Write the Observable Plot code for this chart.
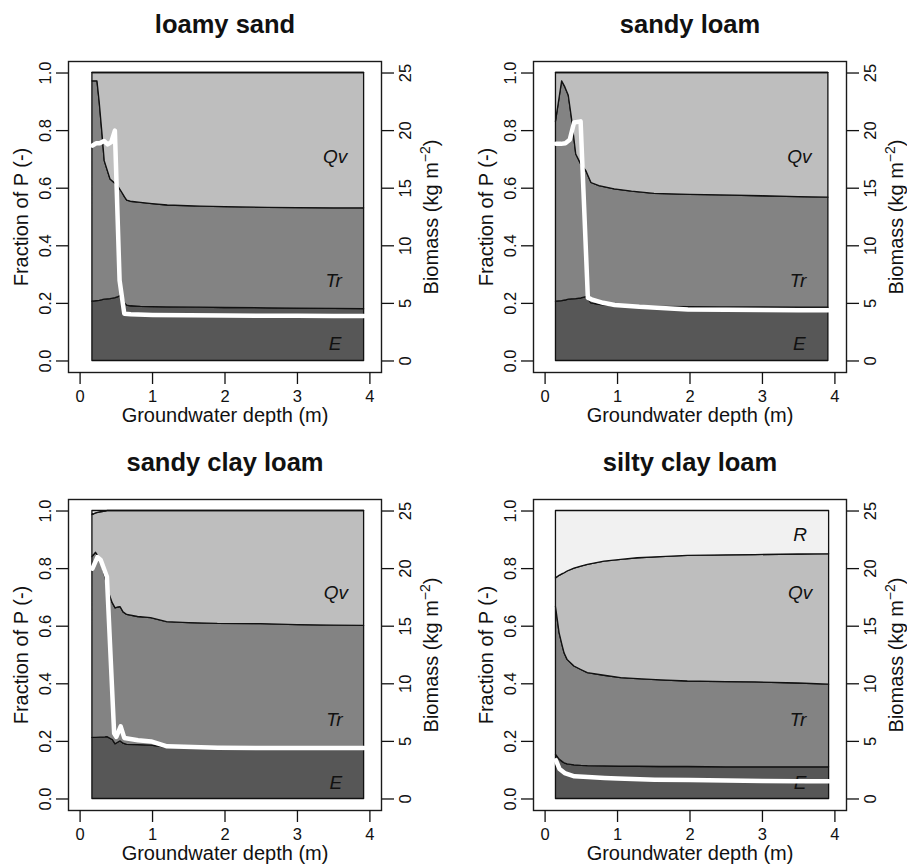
<!DOCTYPE html>
<html>
<head>
<meta charset="utf-8">
<script src="https://cdn.jsdelivr.net/npm/d3@7"></script>
<script src="https://cdn.jsdelivr.net/npm/@observablehq/plot@0.6"></script>
<style>
  html, body { margin: 0; padding: 0; background: #fff; overflow: hidden; }
  #wrap { position: relative; width: 907px; height: 866px; overflow: hidden; background: #fff; }
  .panel { position: absolute; width: 454px; height: 433px; }
  .panel svg { max-width: none !important; }
</style>
</head>
<body>
<div id="wrap"></div>
<script>
// ---------- shared axis data ----------
const titles = ["loamy sand", "sandy loam", "sandy clay loam", "silty clay loam"];
const fracTicks = [0, 0.2, 0.4, 0.6, 0.8, 1.0];
const fracTickLabels = ["0.0", "0.2", "0.4", "0.6", "0.8", "1.0"];
const bioTicks = [0, 5, 10, 15, 20, 25];
const depthTicks = [0, 1, 2, 3, 4];
const xLabel = "Groundwater depth (m)";
const yLabel = "Fraction of P (-)";
const y2Label = "Biomass (kg m-2)";
const bioMax = 25;

// ---------- loamy sand ----------
const lsDepth = [0.17, 0.24, 0.27, 0.31, 0.34, 0.42, 0.49, 0.53, 0.58, 0.62, 0.65, 0.7, 0.84, 1.0, 1.21, 1.67, 2.0, 2.59, 3.0, 3.5, 3.92];
const lsE     = [0.206, 0.208, 0.209, 0.211, 0.213, 0.215, 0.218, 0.222, 0.228, 0.2, 0.192, 0.19, 0.188, 0.187, 0.186, 0.185, 0.184, 0.183, 0.182, 0.181, 0.18];
const lsTr    = [0.971, 0.971, 0.9, 0.786, 0.694, 0.63, 0.615, 0.605, 0.585, 0.568, 0.557, 0.553, 0.549, 0.545, 0.54, 0.536, 0.534, 0.532, 0.531, 0.53, 0.53];
const lsQv    = [1, 1, 1, 1, 1, 1, 1, 1, 1, 1, 1, 1, 1, 1, 1, 1, 1, 1, 1, 1, 1];
const lsBioDepth = [0.17, 0.22, 0.27, 0.33, 0.38, 0.43, 0.48, 0.545, 0.61, 0.7, 1.0, 1.5, 2.0, 2.5, 3.0, 3.5, 3.92];
const lsBio      = [18.7, 18.9, 18.9, 19.1, 18.8, 19.0, 20.0, 7.0, 4.1, 4.05, 4.0, 3.97, 3.95, 3.93, 3.92, 3.9, 3.9];
const lsLabels = [{t: "Qv", x: 3.52, y: 0.71}, {t: "Tr", x: 3.5, y: 0.277}, {t: "E", x: 3.52, y: 0.058}];

// ---------- sandy loam ----------
const slDepth = [0.15, 0.235, 0.28, 0.327, 0.37, 0.43, 0.5, 0.57, 0.64, 0.75, 0.96, 1.2, 1.51, 2.0, 2.43, 3.0, 3.5, 3.91];
const slE     = [0.206, 0.208, 0.21, 0.213, 0.214, 0.215, 0.217, 0.222, 0.2, 0.195, 0.19, 0.189, 0.188, 0.187, 0.186, 0.186, 0.185, 0.185];
const slTr    = [0.83, 0.971, 0.95, 0.921, 0.844, 0.717, 0.682, 0.659, 0.618, 0.607, 0.596, 0.588, 0.58, 0.577, 0.575, 0.572, 0.569, 0.567];
const slQv    = [1, 1, 1, 1, 1, 1, 1, 1, 1, 1, 1, 1, 1, 1, 1, 1, 1, 1];
const slBioDepth = [0.15, 0.22, 0.28, 0.34, 0.4, 0.49, 0.59, 0.64, 0.8, 0.96, 1.3, 1.97, 2.5, 3.0, 3.5, 3.91];
const slBio      = [18.85, 18.85, 18.9, 19.2, 20.7, 20.8, 5.5, 5.35, 5.05, 4.86, 4.7, 4.48, 4.45, 4.42, 4.4, 4.4];
const slLabels = [{t: "Qv", x: 3.51, y: 0.71}, {t: "Tr", x: 3.49, y: 0.277}, {t: "E", x: 3.51, y: 0.058}];

// ---------- sandy clay loam ----------
const sclDepth = [0.17, 0.22, 0.285, 0.35, 0.377, 0.45, 0.49, 0.53, 0.56, 0.6, 0.65, 0.8, 0.98, 1.2, 1.5, 1.9, 2.5, 3.0, 3.5, 3.92];
const sclE     = [0.212, 0.212, 0.213, 0.214, 0.215, 0.205, 0.19, 0.196, 0.2, 0.192, 0.188, 0.187, 0.185, 0.178, 0.177, 0.177, 0.176, 0.176, 0.176, 0.176];
const sclTr    = [0.84, 0.855, 0.83, 0.77, 0.732, 0.68, 0.662, 0.665, 0.666, 0.648, 0.639, 0.632, 0.628, 0.614, 0.611, 0.608, 0.607, 0.604, 0.602, 0.601];
const sclQv    = [0.986, 0.992, 0.995, 0.998, 1, 1, 1, 1, 1, 1, 1, 1, 1, 1, 1, 1, 1, 1, 1, 1];
const sclBioDepth = [0.17, 0.24, 0.285, 0.37, 0.47, 0.5, 0.56, 0.61, 0.8, 0.98, 1.2, 1.9, 2.5, 3.0, 3.92];
const sclBio      = [20.0, 21.0, 20.75, 19.3, 5.7, 5.4, 6.3, 5.3, 5.1, 5.0, 4.57, 4.45, 4.43, 4.42, 4.42];
const sclLabels = [{t: "Qv", x: 3.53, y: 0.714}, {t: "Tr", x: 3.51, y: 0.275}, {t: "E", x: 3.53, y: 0.055}];

// ---------- silty clay loam ----------
const sicDepth = [0.15, 0.2, 0.244, 0.27, 0.31, 0.405, 0.5, 0.59, 0.82, 1.05, 1.28, 1.6, 1.97, 2.5, 2.9, 3.5, 3.92];
const sicE     = [0.154, 0.137, 0.128, 0.124, 0.12, 0.117, 0.115, 0.114, 0.113, 0.112, 0.112, 0.111, 0.111, 0.11, 0.11, 0.11, 0.11];
const sicTr    = [0.668, 0.576, 0.53, 0.505, 0.483, 0.46, 0.448, 0.437, 0.428, 0.42, 0.416, 0.412, 0.408, 0.406, 0.405, 0.401, 0.397];
const sicQv    = [0.766, 0.775, 0.781, 0.784, 0.79, 0.8, 0.807, 0.813, 0.824, 0.83, 0.836, 0.84, 0.844, 0.846, 0.847, 0.849, 0.85];
const sicBioDepth = [0.15, 0.2, 0.27, 0.405, 0.59, 0.82, 1.0, 1.51, 2.0, 2.5, 3.0, 3.5, 3.92];
const sicBio      = [3.35, 2.6, 2.25, 1.97, 1.9, 1.82, 1.78, 1.68, 1.64, 1.6, 1.57, 1.55, 1.53];
const sicLabels = [{t: "R", x: 3.52, y: 0.917}, {t: "Qv", x: 3.52, y: 0.714}, {t: "Tr", x: 3.49, y: 0.275}, {t: "E", x: 3.52, y: 0.055}];

// ---------- styling ----------
const colE = "#575757", colTr = "#838383", colQv = "#bebebe", colR = "#f1f1f1";
const ink = "#111";
const W = 454, H = 433, mL = 68, mR = 73, mT = 61, mB = 61;
const xDom = [-0.16, 4.16], yDom = [-0.04, 1.04];

const panels = [
  {title: titles[0], depth: lsDepth, E: lsE, Tr: lsTr, Qv: lsQv, bd: lsBioDepth, b: lsBio, labels: lsLabels, left: 0, top: 0},
  {title: titles[1], depth: slDepth, E: slE, Tr: slTr, Qv: slQv, bd: slBioDepth, b: slBio, labels: slLabels, left: 465, top: 0},
  {title: titles[2], depth: sclDepth, E: sclE, Tr: sclTr, Qv: sclQv, bd: sclBioDepth, b: sclBio, labels: sclLabels, left: 0, top: 438},
  {title: titles[3], depth: sicDepth, E: sicE, Tr: sicTr, Qv: sicQv, bd: sicBioDepth, b: sicBio, labels: sicLabels, left: 465, top: 438}
];

const wrap = document.getElementById("wrap");
const mid = {textAnchor: "middle", lineAnchor: "middle", fill: ink};

for (const p of panels) {
  const rows = p.depth.map((x, i) => ({x, e: p.E[i], tr: p.Tr[i], qv: p.Qv[i]}));
  const bioRows = p.bd.map((x, i) => ({x, b: p.b[i]}));
  const areaOpt = {stroke: ink, strokeWidth: 1.3, strokeLinejoin: "round"};
  const chart = Plot.plot({
    width: W, height: H,
    marginLeft: mL, marginRight: mR, marginTop: mT, marginBottom: mB,
    style: {fontFamily: '"Liberation Sans", Arial, Helvetica, sans-serif', fontSize: "16px", color: ink, background: "transparent", overflow: "visible", maxWidth: "none"},
    x: {domain: xDom},
    y: {domain: yDom},
    marks: [
      Plot.areaY(rows, {x: "x", y1: 0, y2: "e", fill: colE, ...areaOpt}),
      Plot.areaY(rows, {x: "x", y1: "e", y2: "tr", fill: colTr, ...areaOpt}),
      Plot.areaY(rows, {x: "x", y1: "tr", y2: "qv", fill: colQv, ...areaOpt}),
      Plot.areaY(rows, {x: "x", y1: "qv", y2: 1, fill: colR, ...areaOpt}),
      Plot.text(p.labels, {x: "x", y: "y", text: "t", fontStyle: "italic", fontSize: 19, ...mid}),
      Plot.line(bioRows, {x: "x", y: d => d.b / bioMax, stroke: "white", strokeWidth: 4.5}),
      Plot.frame({stroke: "#1a1a1a", strokeWidth: 1.4}),
      Plot.axisX({ticks: depthTicks, tickSize: 12, tickPadding: 6, fontSize: 16.5, label: null, strokeWidth: 1.3, tickFormat: d => String(d)}),
      Plot.axisY({ticks: fracTicks, tickSize: 12, tickFormat: () => "", label: null, strokeWidth: 1.3}),
      Plot.axisY({anchor: "right", ticks: bioTicks.map(b => b / bioMax), tickSize: 12, tickFormat: () => "", label: null, strokeWidth: 1.3}),
      Plot.text(fracTicks, {x: () => xDom[0], y: d => d, text: (d, i) => fracTickLabels[i], rotate: -90, dx: -22.5, fontSize: 16.5, ...mid}),
      Plot.text(bioTicks, {x: () => xDom[1], y: d => d / bioMax, text: d => String(d), rotate: -90, dx: 24, fontSize: 16.5, ...mid}),
      Plot.text([p.title], {frameAnchor: "top", text: d => d, dy: -37, fontSize: 25.5, fontWeight: "bold", ...mid}),
      Plot.text([xLabel], {frameAnchor: "bottom", text: d => d, dy: 43.5, fontSize: 20, ...mid}),
      Plot.text([yLabel], {frameAnchor: "left", text: d => d, dx: -46.5, rotate: -90, fontSize: 20, ...mid}),
      Plot.text([y2Label], {frameAnchor: "right", text: d => d, dx: 50.5, rotate: -90, fontSize: 20, ...mid})
    ]
  });
  // superscript for m^-2
  chart.querySelectorAll("text").forEach(t => {
    if (t.textContent === y2Label) {
      t.textContent = "";
      const ns = "http://www.w3.org/2000/svg";
      const a = document.createElementNS(ns, "tspan"); a.textContent = "Biomass (kg m";
      const s = document.createElementNS(ns, "tspan"); s.textContent = "\u22122"; s.setAttribute("dy", "-8"); s.setAttribute("font-size", "14");
      const c = document.createElementNS(ns, "tspan"); c.textContent = ")"; c.setAttribute("dy", "8");
      t.append(a, s, c);
    }
  });
  const div = document.createElement("div");
  div.className = "panel";
  div.style.left = p.left + "px";
  div.style.top = p.top + "px";
  div.appendChild(chart);
  wrap.appendChild(div);
}
</script>
</body>
</html>
